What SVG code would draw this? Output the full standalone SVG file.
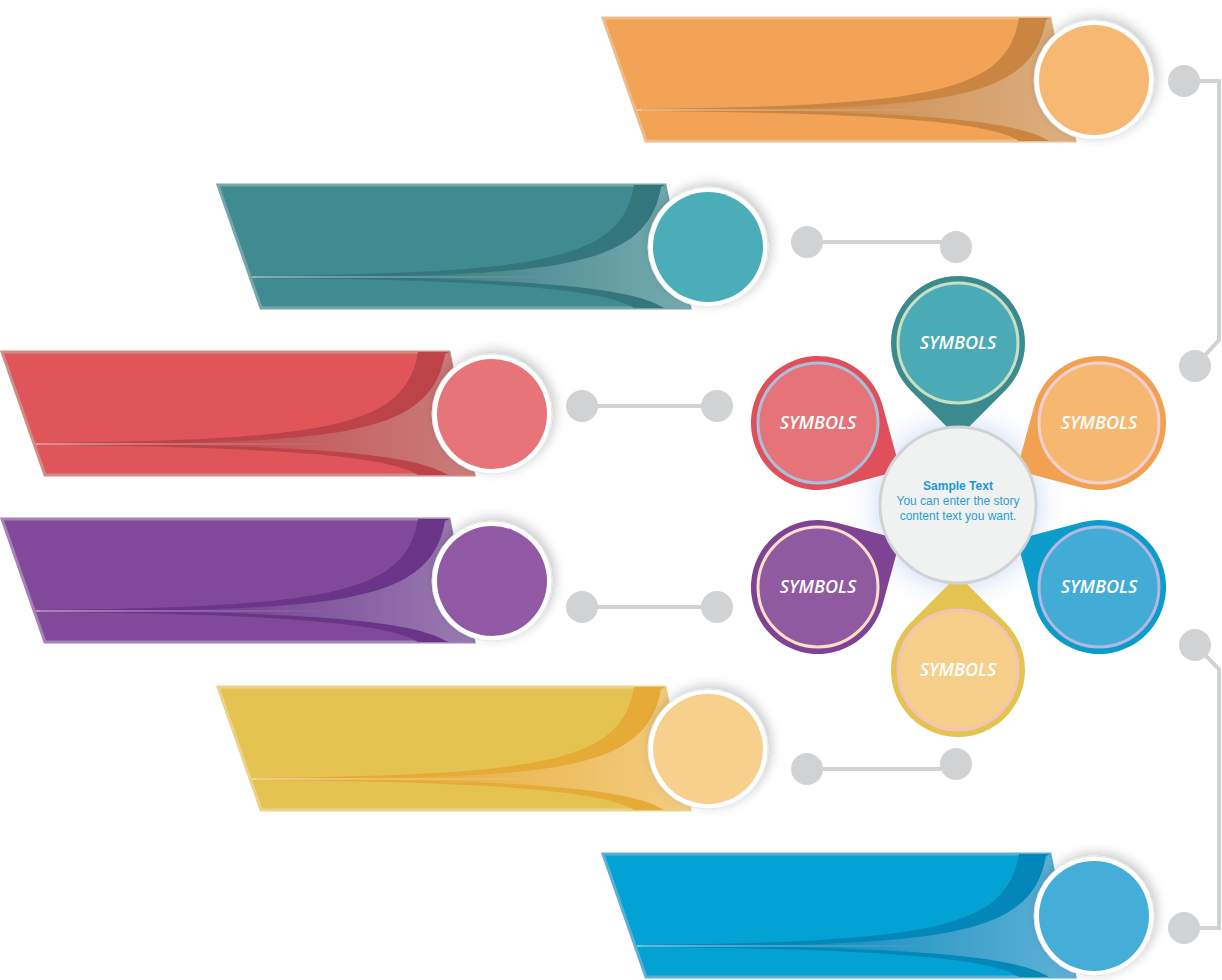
<svg xmlns="http://www.w3.org/2000/svg" width="1222" height="980" viewBox="0 0 1222 980">
<defs>
<style>
.sym{font-family:"Open Sans","Liberation Sans",sans-serif;font-style:italic;font-weight:600;font-size:18px;fill:#ffffff;text-anchor:middle;}
.ct{font-family:"Liberation Sans",Arial,sans-serif;font-size:12px;fill:#2a9fcf;text-anchor:middle;}
.ctb{font-weight:bold;fill:#1b98d5;}
.conn{stroke:#d1d2d4;stroke-width:4;fill:none;}
.dot{fill:#d1d2d4;}
.ring{fill:#ffffff;stroke:#e2e6e6;stroke-width:1;}
</style>
<filter id="sh" x="-40%" y="-40%" width="180%" height="180%">
<feGaussianBlur in="SourceAlpha" stdDeviation="6"/>
<feOffset dx="3" dy="-3" result="b"/>
<feComponentTransfer><feFuncA type="linear" slope="0.22"/></feComponentTransfer>
<feMerge><feMergeNode/><feMergeNode in="SourceGraphic"/></feMerge>
</filter>
<radialGradient id="glow" cx="958" cy="505" r="112" gradientUnits="userSpaceOnUse">
<stop offset="0.6" stop-color="#cfdcf4"/>
<stop offset="1" stop-color="#ffffff" stop-opacity="0"/>
</radialGradient>
<path id="par" d="M0,0 H447 L472,123 H43 Z"/>
<path id="dk" d="M416,0 C404,74 330,88 38,91 L38,93 C300,95 390,106 416,123 L472,123 L447,0 Z"/>
<path id="gr" d="M443,2 C430,78 350,89 130,92 C350,95 418,106 446,123 L472,123 L447,0 Z"/>
<path id="petal" d="M47.5,47.2 L0,95 L-47.5,47.2 A67,67 0 1 1 47.5,47.2 Z"/>
<linearGradient id="gO" x1="150" y1="0" x2="480" y2="0" gradientUnits="userSpaceOnUse"><stop offset="0" stop-color="#c98541"/><stop offset="1" stop-color="#ddb083"/></linearGradient>
<linearGradient id="gT" x1="150" y1="0" x2="480" y2="0" gradientUnits="userSpaceOnUse"><stop offset="0" stop-color="#33767b"/><stop offset="1" stop-color="#77adb2"/></linearGradient>
<linearGradient id="gR" x1="150" y1="0" x2="480" y2="0" gradientUnits="userSpaceOnUse"><stop offset="0" stop-color="#bc4449"/><stop offset="1" stop-color="#cb7f7c"/></linearGradient>
<linearGradient id="gP" x1="150" y1="0" x2="480" y2="0" gradientUnits="userSpaceOnUse"><stop offset="0" stop-color="#6a3589"/><stop offset="1" stop-color="#9c7cb2"/></linearGradient>
<linearGradient id="gY" x1="150" y1="0" x2="480" y2="0" gradientUnits="userSpaceOnUse"><stop offset="0" stop-color="#e6aa36"/><stop offset="1" stop-color="#f3cd82"/></linearGradient>
<linearGradient id="gB" x1="150" y1="0" x2="480" y2="0" gradientUnits="userSpaceOnUse"><stop offset="0" stop-color="#0287b8"/><stop offset="1" stop-color="#62b2d6"/></linearGradient>
<linearGradient id="ln" x1="34" y1="0" x2="330" y2="0" gradientUnits="userSpaceOnUse"><stop offset="0" stop-color="#ffffff" stop-opacity="0.55"/><stop offset="1" stop-color="#ffffff" stop-opacity="0"/></linearGradient>
</defs>
<rect width="1222" height="980" fill="#ffffff"/>

<g id="connectors">
<path class="conn" d="M1184,81 H1219 V340 L1195,366"/>
<circle class="dot" cx="1184" cy="81" r="16"/>
<circle class="dot" cx="1195" cy="366" r="16"/>
<path class="conn" d="M807,242 H956"/>
<circle class="dot" cx="807" cy="242" r="16"/>
<circle class="dot" cx="956" cy="247" r="16"/>
<path class="conn" d="M582,406 H717"/>
<circle class="dot" cx="582" cy="406" r="16"/>
<circle class="dot" cx="717" cy="406" r="16"/>
<path class="conn" d="M582,607 H717"/>
<circle class="dot" cx="582" cy="607" r="16"/>
<circle class="dot" cx="717" cy="607" r="16"/>
<path class="conn" d="M807,769 H956"/>
<circle class="dot" cx="807" cy="769" r="16"/>
<circle class="dot" cx="956" cy="764" r="16"/>
<path class="conn" d="M1195,645 L1219,669 V928 H1184"/>
<circle class="dot" cx="1195" cy="645" r="16"/>
<circle class="dot" cx="1184" cy="928" r="16"/>
</g>

<g id="banner-orange" transform="translate(603,18)">
<use href="#par" fill="#f2a355" stroke="#ebbd8c" stroke-width="3"/>
<use href="#dk" fill="#c98541"/>
<use href="#gr" fill="url(#gO)"/>
<path d="M34,92 H330" stroke="url(#ln)" stroke-width="1.6"/>
<circle class="ring" cx="491" cy="62" r="60" filter="url(#sh)"/>
<circle cx="491" cy="62" r="55" fill="#f6b872"/>
</g>

<g id="banner-teal" transform="translate(218,185)">
<use href="#par" fill="#3f8b91" stroke="#76a6aa" stroke-width="3"/>
<use href="#dk" fill="#33767b"/>
<use href="#gr" fill="url(#gT)"/>
<path d="M34,92 H330" stroke="url(#ln)" stroke-width="1.6"/>
<circle class="ring" cx="490" cy="62" r="60" filter="url(#sh)"/>
<circle cx="490" cy="62" r="55" fill="#4aadb8"/>
</g>

<g id="banner-red" transform="translate(2,352)">
<use href="#par" fill="#e0555a" stroke="#cf8b86" stroke-width="3"/>
<use href="#dk" fill="#bc4449"/>
<use href="#gr" fill="url(#gR)"/>
<path d="M34,92 H330" stroke="url(#ln)" stroke-width="1.6"/>
<circle class="ring" cx="490" cy="62" r="60" filter="url(#sh)"/>
<circle cx="490" cy="62" r="55" fill="#e67478"/>
</g>

<g id="banner-purple" transform="translate(2,519)">
<use href="#par" fill="#82489a" stroke="#a283b4" stroke-width="3"/>
<use href="#dk" fill="#6a3589"/>
<use href="#gr" fill="url(#gP)"/>
<path d="M34,92 H330" stroke="url(#ln)" stroke-width="1.6"/>
<circle class="ring" cx="490" cy="62" r="60" filter="url(#sh)"/>
<circle cx="490" cy="62" r="55" fill="#9159a3"/>
</g>

<g id="banner-yellow" transform="translate(218,687)">
<use href="#par" fill="#e5c350" stroke="#ecd38c" stroke-width="3"/>
<use href="#dk" fill="#e6aa36"/>
<use href="#gr" fill="url(#gY)"/>
<path d="M34,92 H330" stroke="url(#ln)" stroke-width="1.6"/>
<circle class="ring" cx="490" cy="62" r="60" filter="url(#sh)"/>
<circle cx="490" cy="62" r="55" fill="#f6d08c"/>
</g>

<g id="banner-blue" transform="translate(603,854)">
<use href="#par" fill="#02a3d4" stroke="#5caed4" stroke-width="3"/>
<use href="#dk" fill="#0287b8"/>
<use href="#gr" fill="url(#gB)"/>
<path d="M34,92 H330" stroke="url(#ln)" stroke-width="1.6"/>
<circle class="ring" cx="491" cy="62" r="60" filter="url(#sh)"/>
<circle cx="491" cy="62" r="55" fill="#44aed8"/>
</g>

<circle id="glow-halo" cx="958" cy="505" r="112" fill="url(#glow)"/>

<g id="petal-teal" transform="translate(958,343)">
<use href="#petal" fill="#3b8a8f"/>
<circle r="60" fill="#4aabb6" stroke="#c8dfc0" stroke-width="3"/>
<text class="sym" y="6">SYMBOLS</text>
</g>
<g id="petal-red" transform="translate(818,423)">
<use href="#petal" fill="#e0505a" transform="rotate(-60)"/>
<circle r="60" fill="#e57377" stroke="#a9c0dc" stroke-width="3"/>
<text class="sym" y="6">SYMBOLS</text>
</g>
<g id="petal-orange" transform="translate(1099,423)">
<use href="#petal" fill="#f2a052" transform="rotate(60)"/>
<circle r="60" fill="#f6b870" stroke="#f4d0d0" stroke-width="3"/>
<text class="sym" y="6">SYMBOLS</text>
</g>
<g id="petal-purple" transform="translate(818,587)">
<use href="#petal" fill="#7e4393" transform="rotate(-120)"/>
<circle r="60" fill="#8f5aa0" stroke="#fde0c8" stroke-width="3"/>
<text class="sym" y="6">SYMBOLS</text>
</g>
<g id="petal-blue" transform="translate(1099,587)">
<use href="#petal" fill="#0b9ccb" transform="rotate(120)"/>
<circle r="60" fill="#42acd7" stroke="#b4b8e0" stroke-width="3"/>
<text class="sym" y="6">SYMBOLS</text>
</g>
<g id="petal-yellow" transform="translate(958,670)">
<use href="#petal" fill="#e5c350" transform="rotate(180)"/>
<circle r="60" fill="#f6d08a" stroke="#f2c4b8" stroke-width="3"/>
<text class="sym" y="6">SYMBOLS</text>
</g>

<g id="center">
<circle cx="958" cy="505" r="78" fill="#f0f2f2" stroke="#cfd3d4" stroke-width="3"/>
<text class="ct ctb" x="958" y="490">Sample Text</text>
<text class="ct" x="958" y="505">You can enter the story</text>
<text class="ct" x="958" y="520">content text you want.</text>
</g>
</svg>
